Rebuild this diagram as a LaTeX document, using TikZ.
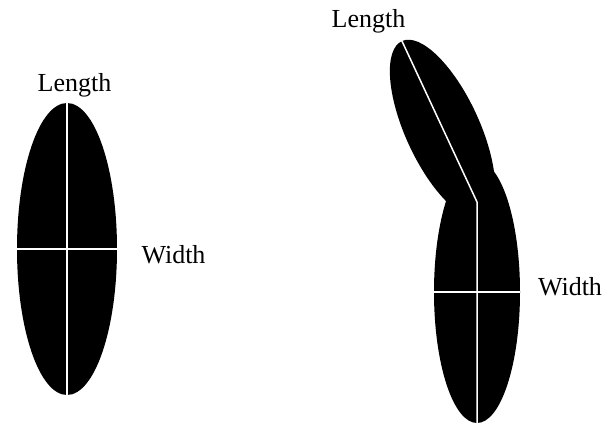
\documentclass[tikz,border=0pt]{standalone}
\usepackage{fontspec}
\setmainfont{Liberation Serif}
\usepackage{tikz}
\usetikzlibrary{shapes.geometric,positioning,calc}

\tikzset{
    body/.style={ellipse, fill=black, draw=none, inner sep=0pt},
    axisline/.style={draw=white, line width=1.5pt},
    dimlabel/.style={font=\fontsize{26}{30}\selectfont, inner sep=0pt, anchor=base}
}

\begin{document}
\begin{tikzpicture}[x=1pt, y=-1pt]
        \useasboundingbox (0,0) rectangle (603,425);

        % Left: straight body
        \node[body, minimum width=100pt, minimum height=292pt] (straight) at (67, 249) {};
        \draw[axisline] (straight.north) -- (straight.south);
        \draw[axisline] (straight.west) -- (straight.east);
        \node[dimlabel] (straightlen) at (74.5, 92) {Length};
        \node[dimlabel] (straightwid) at (173.5, 263) {Width};

        % Right: bent body (lower part + tilted upper part)
        \node[body, minimum width=86pt, minimum height=262pt] (lower) at (477, 292) {};
        \node[body, minimum width=74pt, minimum height=194pt, rotate=24.7] (upper) at (442.5, 129.2) {};
        \coordinate (bend) at (477, 202);
        \draw[axisline] (upper.north) -- (bend) -- (lower.south);
        \draw[axisline] (lower.west) -- (lower.east);
        \node[dimlabel] (bentlen) at (368.5, 28) {Length};
        \node[dimlabel] (bentwid) at (570, 295) {Width};
    \end{tikzpicture}
\end{document}
